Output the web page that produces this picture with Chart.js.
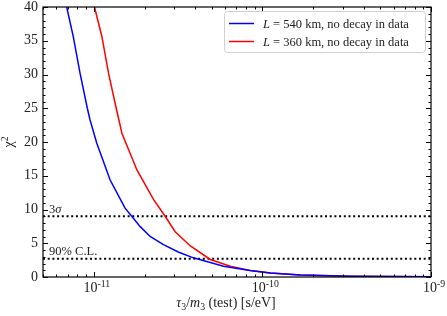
<!DOCTYPE html>
<html>
<head>
<meta charset="utf-8">
<script src="https://cdn.jsdelivr.net/npm/chart.js@4.4.1/dist/chart.umd.min.js"></script>
<style>
    html, body { margin: 0; padding: 0; background: #fff; }
</style>
</head>
<body>
<canvas id="graficoChi" width="447" height="316"></canvas>
<script>
// tau3/m3 (test) [s/eV] e chi^2
const tau540 = [6.91e-12, 7.56e-12, 8.29e-12, 9.16e-12, 9.50e-12, 1.041e-11, 1.249e-11, 1.533e-11, 1.68e-11, 1.88e-11, 2.16e-11, 2.59e-11, 3.17e-11, 3.90e-11, 5.88e-11, 8.46e-11, 1.114e-10, 1.68e-10, 3.33e-10, 1e-9];
const chi540 = [40, 35.6, 30.2, 25.0, 23.3, 19.85, 14.4, 10.2, 9.0, 7.5, 6.0, 4.8, 3.7, 2.84, 1.6, 0.96, 0.6, 0.3, 0.12, 0.05];

const tau360 = [1.01e-11, 1.118e-11, 1.223e-11, 1.359e-11, 1.469e-11, 1.80e-11, 2.26e-11, 2.65e-11, 3.04e-11, 3.74e-11, 4.91e-11, 6.45e-11, 8.46e-11, 1.114e-10, 1.68e-10, 3.33e-10, 1e-9];
const chi360 = [40, 35.6, 30.2, 25.0, 21.3, 15.9, 11.5, 9.0, 6.7, 4.6, 2.6, 1.6, 0.96, 0.6, 0.3, 0.12, 0.05];

const legendas = ['540', '360'];
const cores = ['#0000ff', '#ff0000'];

const niveis = [9, 2.71];
const niveisNomes = [[['3', ''], ['σ', 'i']], [['90% C.L.', '']]];

const xMin = 5e-12, xMax = 1e-9;
const xMaiores = [1e-11, 1e-10, 1e-9];
const xExpoentes = ['-11', '-10', '-9'];
const yMin = 0, yMax = 40;

const FONTE = 'Liberation Serif';

function pontos(xs, ys) {
    return xs.map((x, i) => ({ x: x, y: ys[i] }));
}

// texto com partes em italico / subscrito / sobrescrito
function textoRico(ctx, partes, x, y, tam, alinhar) {
    function fonte(est) {
        let t = (est === 'sub' || est === 'sup') ? tam * 0.7 : tam;
        return (est === 'i' ? 'italic ' : '') + t + 'px "' + FONTE + '"';
    }
    let larg = 0;
    partes.forEach(p => { ctx.font = fonte(p[1]); larg += ctx.measureText(p[0]).width; });
    let cx = alinhar === 'center' ? x - larg / 2 : x;
    ctx.textAlign = 'left';
    ctx.textBaseline = 'alphabetic';
    partes.forEach(p => {
        ctx.font = fonte(p[1]);
        let dy = p[1] === 'sub' ? tam * 0.22 : (p[1] === 'sup' ? -tam * 0.38 : 0);
        ctx.fillText(p[0], cx, y + dy);
        cx += ctx.measureText(p[0]).width;
    });
}

const decoracao = {
    id: 'decoracao',
    afterDatasetsDraw(chart) {
        const ctx = chart.ctx;
        const a = chart.chartArea;
        const sx = chart.scales.x, sy = chart.scales.y;
        ctx.save();
        ctx.strokeStyle = '#000';
        ctx.fillStyle = '#222';

        // marcas para dentro nos quatro lados
        ctx.lineWidth = 1;
        ctx.beginPath();
        sx.ticks.forEach(t => {
            let px = Math.round(sx.getPixelForValue(t.value)) + 0.5;
            let len = xMaiores.includes(t.value) ? 5 : 2.5;
            ctx.moveTo(px, a.bottom); ctx.lineTo(px, a.bottom - len);
            ctx.moveTo(px, a.top); ctx.lineTo(px, a.top + len);
        });
        sy.ticks.forEach(t => {
            let py = Math.round(sy.getPixelForValue(t.value)) + 0.5;
            let len = t.value % 5 === 0 ? 5 : 2.5;
            ctx.moveTo(a.left, py); ctx.lineTo(a.left + len, py);
            ctx.moveTo(a.right, py); ctx.lineTo(a.right - len, py);
        });
        ctx.stroke();

        ctx.lineWidth = 1.2;
        ctx.strokeRect(a.left, a.top, a.right - a.left, a.bottom - a.top);

        // rotulos do eixo x: 10 com expoente
        xMaiores.forEach((v, i) => {
            textoRico(ctx, [['10', ''], [xExpoentes[i], 'sup']], sx.getPixelForValue(v) + 3, a.bottom + 15, 14, 'center');
        });

        // nomes dos niveis
        niveis.forEach((v, i) => {
            textoRico(ctx, niveisNomes[i], a.left + 6, sy.getPixelForValue(v) - 3.5, 12.5, 'left');
        });

        // legenda
        const lx = 224, ly = 11, lw = 201, lh = 41;
        ctx.beginPath();
        ctx.roundRect(lx + 0.5, ly + 0.5, lw, lh, 3);
        ctx.fillStyle = 'rgba(255,255,255,0.85)';
        ctx.fill();
        ctx.strokeStyle = '#d0d0d0';
        ctx.lineWidth = 1;
        ctx.stroke();
        legendas.forEach((d, i) => {
            let yy = 23.5 + i * 18;
            ctx.strokeStyle = cores[i];
            ctx.lineWidth = 1.5;
            ctx.beginPath();
            ctx.moveTo(229, yy); ctx.lineTo(254, yy);
            ctx.stroke();
            ctx.fillStyle = '#222';
            textoRico(ctx, [['L', 'i'], [' = ' + d + ' km, no decay in data', '']], 263, yy + 4, 12.5, 'left');
        });

        // titulos dos eixos
        textoRico(ctx, [['τ', 'i'], ['3', 'sub'], ['/', ''], ['m', 'i'], ['3', 'sub'], [' (test) [s/eV]', '']], 226, 307, 14, 'center');
        ctx.translate(13, 142);
        ctx.rotate(-Math.PI / 2);
        textoRico(ctx, [['χ', ''], ['2', 'sup']], 0, 0, 14, 'center');
        ctx.restore();
    }
};

const dados = {
    datasets: [
        {
            label: 'L = 540 km',
            data: pontos(tau540, chi540),
            borderColor: cores[0],
            borderWidth: 1.5,
            showLine: true,
            pointRadius: 0,
            tension: 0
        },
        {
            label: 'L = 360 km',
            data: pontos(tau360, chi360),
            borderColor: cores[1],
            borderWidth: 1.5,
            showLine: true,
            pointRadius: 0,
            tension: 0
        }
    ]
};
niveis.forEach(v => {
    dados.datasets.push({
        label: 'nivel',
        data: [{ x: xMin, y: v }, { x: xMax, y: v }],
        borderColor: '#000',
        borderWidth: 2,
        borderDash: [2, 2.7],
        showLine: true,
        pointRadius: 0
    });
});

const config = {
    type: 'scatter',
    data: dados,
    options: {
        responsive: false,
        animation: false,
        layout: { padding: { top: 7, right: 16, left: 0, bottom: 0 } },
        plugins: {
            legend: { display: false },
            tooltip: { enabled: false }
        },
        scales: {
            x: {
                type: 'logarithmic',
                min: xMin,
                max: xMax,
                afterBuildTicks: function (s) {
                    let lista = [];
                    [1e-12, 1e-11, 1e-10].forEach(dec => {
                        for (let k = 1; k <= 9; k++) {
                            let v = +(k * dec).toPrecision(3);
                            if (v >= xMin && v <= xMax) lista.push({ value: v });
                        }
                    });
                    lista.push({ value: 1e-9 });
                    s.ticks = lista;
                },
                afterFit: function (s) {
                    s.height = 39;
                    s.paddingLeft = 0; s.paddingRight = 0;
                },
                grid: { display: false, drawTicks: false },
                border: { display: false },
                ticks: {
                    autoSkip: false,
                    maxRotation: 0,
                    color: 'rgba(0,0,0,0)',
                    font: { family: FONTE, size: 1 },
                    callback: function () { return ''; }
                }
            },
            y: {
                min: yMin,
                max: yMax,
                afterFit: function (s) {
                    s.width = 43;
                    s.paddingTop = 0; s.paddingBottom = 0;
                },
                grid: { display: false, drawTicks: false },
                border: { display: false },
                ticks: {
                    stepSize: 1,
                    autoSkip: false,
                    padding: 5,
                    color: '#222',
                    font: { family: FONTE, size: 14 },
                    callback: function (v) { return v % 5 === 0 ? v : ''; }
                }
            }
        }
    },
    plugins: [decoracao]
};

new Chart(document.getElementById('graficoChi'), config);
</script>
</body>
</html>
